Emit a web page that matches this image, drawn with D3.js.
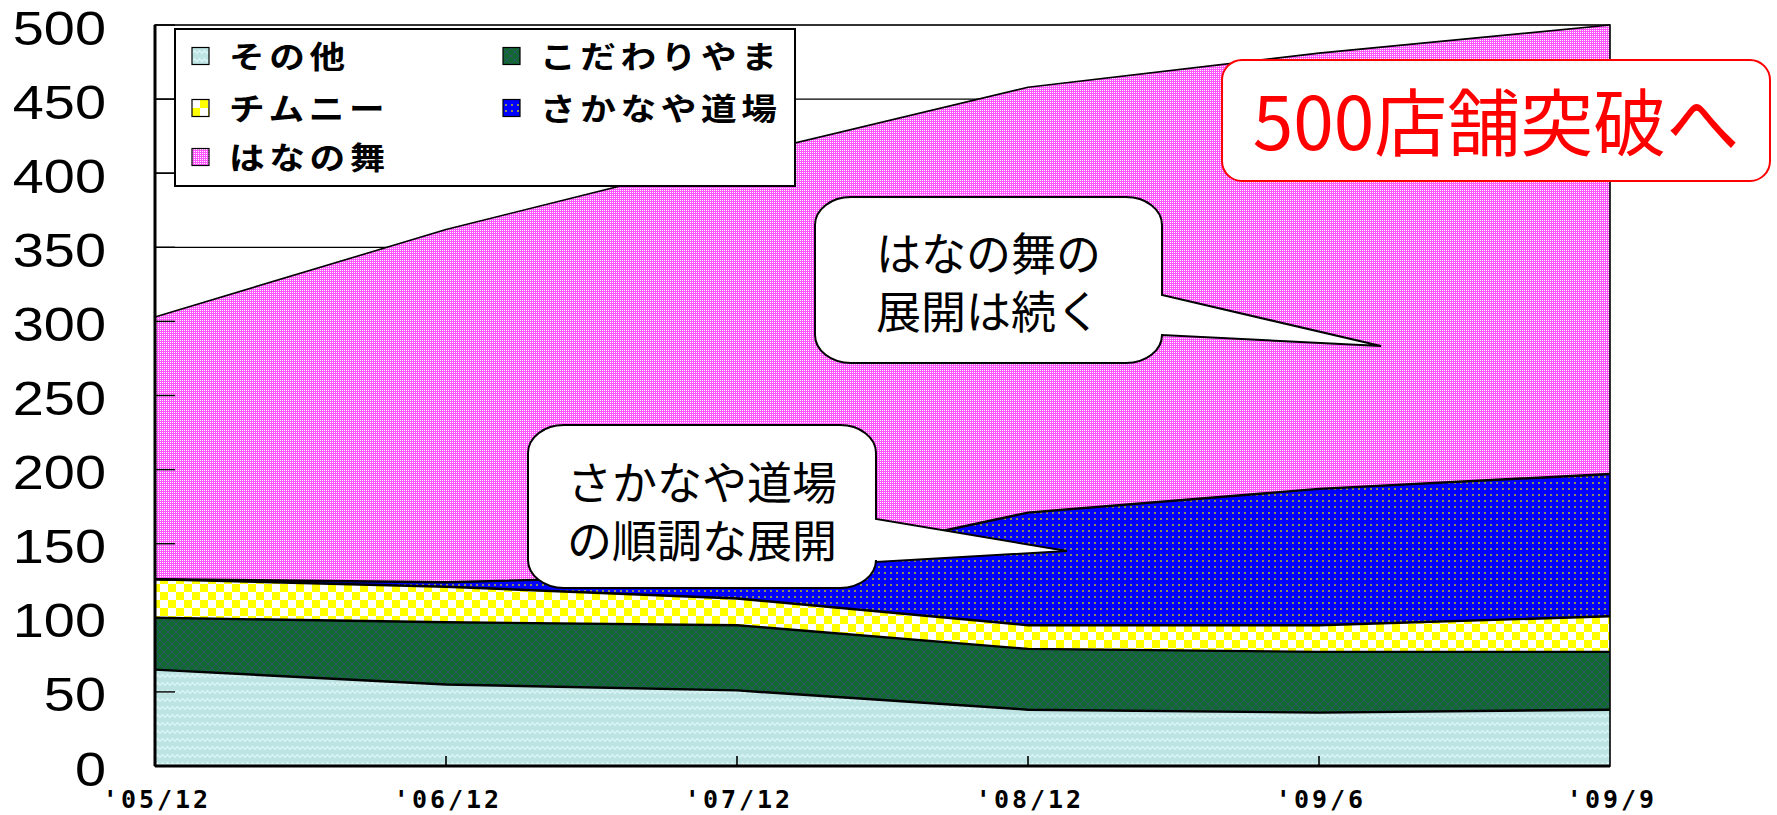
<!DOCTYPE html>
<html>
<head>
<meta charset="utf-8">
<script src="https://cdn.jsdelivr.net/npm/d3@7"></script>
<style>
  body { margin: 0; background: #fff; }
  svg { display: block; }
</style>
</head>
<body>
<div id="chart"></div>
<script>
// 店舗数の推移（積み上げ）
const categories = ["'05/12", "'06/12", "'07/12", "'08/12", "'09/6", "'09/9"];
const seriesNames = ["その他", "こだわりやま", "チムニー", "さかなや道場", "はなの舞"];
const sonota    = [65, 55, 51, 38, 36, 38];
const kodawari  = [35, 42, 44, 41, 41, 39];
const chimney   = [26, 24, 18, 16, 18, 24];
const sakanaya  = [0, 3, 16, 76, 92, 96];
const hananomai = [177, 238, 282, 287, 294, 303];
const yTicks = [0, 50, 100, 150, 200, 250, 300, 350, 400, 450, 500];

const width = 1777, height = 815;
const plot = { left: 155, right: 1610, top: 25, bottom: 766 };

const table = categories.map((c, i) => ({
    cat: c,
    "その他": sonota[i],
    "こだわりやま": kodawari[i],
    "チムニー": chimney[i],
    "さかなや道場": sakanaya[i],
    "はなの舞": hananomai[i]
}));

const stacked = d3.stack().keys(seriesNames)(table);

const x = d3.scalePoint().domain(categories).range([plot.left, plot.right]).padding(0);
const y = d3.scaleLinear().domain([0, 500]).range([plot.bottom, plot.top]);

const svg = d3.select("#chart").append("svg")
    .attr("width", width)
    .attr("height", height);

svg.append("rect").attr("width", width).attr("height", height).attr("fill", "#fff");

// パターン
const defs = svg.append("defs");

const pCyan = defs.append("pattern").attr("id", "p0")
    .attr("patternUnits", "userSpaceOnUse").attr("width", 10).attr("height", 8);
pCyan.append("rect").attr("width", 10).attr("height", 8).attr("fill", "#bde3e3");
pCyan.append("path").attr("d", "M0,5.5 L2.5,2.5 L5,5.5 L7.5,2.5 L10,5.5")
    .attr("fill", "none").attr("stroke", "#daf5f5").attr("stroke-width", 1.4);

const pGreen = defs.append("pattern").attr("id", "p1")
    .attr("patternUnits", "userSpaceOnUse").attr("width", 8).attr("height", 8);
pGreen.append("rect").attr("width", 8).attr("height", 8).attr("fill", "#12692f");
pGreen.append("path").attr("d", "M0,0 L8,8 M8,0 L0,8")
    .attr("stroke", "#2a5868").attr("stroke-width", 1);

const pYellow = defs.append("pattern").attr("id", "p2")
    .attr("patternUnits", "userSpaceOnUse").attr("width", 16).attr("height", 16);
pYellow.append("rect").attr("width", 16).attr("height", 16).attr("fill", "#fff");
pYellow.append("rect").attr("width", 8).attr("height", 8).attr("fill", "#ffff00");
pYellow.append("rect").attr("x", 8).attr("y", 8).attr("width", 8).attr("height", 8).attr("fill", "#ffff00");

const pBlue = defs.append("pattern").attr("id", "p3")
    .attr("patternUnits", "userSpaceOnUse").attr("width", 6).attr("height", 6);
pBlue.append("rect").attr("width", 6).attr("height", 6).attr("fill", "#0000ff");
pBlue.append("rect").attr("x", 2).attr("y", 2).attr("width", 2).attr("height", 2).attr("fill", "#8e8e5a");

const pPink = defs.append("pattern").attr("id", "p4")
    .attr("patternUnits", "userSpaceOnUse").attr("width", 2).attr("height", 2);
pPink.append("rect").attr("width", 2).attr("height", 2).attr("fill", "#ff55ff");
pPink.append("rect").attr("width", 1).attr("height", 1).attr("fill", "#ffffff");

// 目盛線
svg.append("g").selectAll("line")
    .data(yTicks.filter(t => t > 0 && t < 500))
    .enter().append("line")
    .attr("x1", plot.left).attr("x2", plot.right)
    .attr("y1", d => y(d)).attr("y2", d => y(d))
    .attr("stroke", "#000").attr("stroke-width", 1.2);

// 面
const area = d3.area()
    .x((d, i) => x(categories[i]))
    .y0(d => y(d[0]))
    .y1(d => y(d[1]));

svg.append("g").selectAll("path")
    .data(stacked)
    .enter().append("path")
    .attr("d", area)
    .attr("fill", (d, i) => `url(#p${i})`);

const line = d3.line()
    .x((d, i) => x(categories[i]))
    .y(d => y(d[1]));

svg.append("g").selectAll("path")
    .data(stacked)
    .enter().append("path")
    .attr("d", line)
    .attr("fill", "none")
    .attr("stroke", "#000")
    .attr("stroke-width", (d, i) => i === 4 ? 1.6 : 2.4);

// 軸と枠
svg.append("rect")
    .attr("x", plot.left).attr("y", plot.top)
    .attr("width", plot.right - plot.left).attr("height", plot.bottom - plot.top)
    .attr("fill", "none").attr("stroke", "#000").attr("stroke-width", 1.6);

svg.append("line")
    .attr("x1", plot.left).attr("x2", plot.left)
    .attr("y1", plot.top).attr("y2", plot.bottom)
    .attr("stroke", "#000").attr("stroke-width", 3);
svg.append("line")
    .attr("x1", plot.left).attr("x2", plot.right)
    .attr("y1", plot.bottom).attr("y2", plot.bottom)
    .attr("stroke", "#000").attr("stroke-width", 3);

svg.append("g").selectAll("line")
    .data(yTicks)
    .enter().append("line")
    .attr("x1", plot.left).attr("x2", plot.left + 20)
    .attr("y1", d => y(d)).attr("y2", d => y(d))
    .attr("stroke", "#000").attr("stroke-width", 1.4);

svg.append("g").selectAll("line")
    .data(categories.slice(1, -1))
    .enter().append("line")
    .attr("x1", d => x(d)).attr("x2", d => x(d))
    .attr("y1", plot.bottom).attr("y2", plot.bottom - 10)
    .attr("stroke", "#000").attr("stroke-width", 1.6);

svg.append("g").selectAll("text")
    .data(yTicks)
    .enter().append("text")
    .attr("transform", d => `translate(106,${y(d) + 19.5}) scale(1.14,1)`)
    .attr("text-anchor", "end")
    .attr("font-family", "'Liberation Sans', Arial, sans-serif")
    .attr("font-size", 49)
    .attr("fill", "#000")
    .text(d => d);

svg.append("g").selectAll("text")
    .data(categories)
    .enter().append("text")
    .attr("x", d => x(d) + 2)
    .attr("y", 808)
    .attr("text-anchor", "middle")
    .attr("font-family", "'DejaVu Sans Mono', monospace")
    .attr("font-weight", "bold")
    .attr("font-size", 25)
    .attr("letter-spacing", 3)
    .attr("fill", "#000")
    .text(d => d);

// 凡例
const legend = svg.append("g");
legend.append("rect")
    .attr("x", 175).attr("y", 29).attr("width", 620).attr("height", 157)
    .attr("fill", "#fff").attr("stroke", "#000").attr("stroke-width", 2);

const legendPos = [
    { x: 192, y: 56 }, { x: 503, y: 56 },
    { x: 192, y: 108 }, { x: 503, y: 108 },
    { x: 192, y: 157 }
];

const items = legend.selectAll("g.item")
    .data(seriesNames)
    .enter().append("g")
    .attr("transform", (d, i) => `translate(${legendPos[i].x},${legendPos[i].y})`);

items.append("rect")
    .attr("x", 0).attr("y", -8.5).attr("width", 17).attr("height", 17)
    .attr("fill", (d, i) => `url(#p${i})`)
    .attr("stroke", "#000").attr("stroke-width", 1.2);

items.append("text")
    .attr("transform", "translate(37,12) scale(1.15,1)")
    .attr("font-family", "'Noto Sans CJK JP', sans-serif")
    .attr("font-weight", "bold")
    .attr("font-size", 31)
    .attr("letter-spacing", 4)
    .attr("fill", "#000")
    .text(d => d);

// 吹き出し
function bubble(x0, y0, x1, y1, rx, ry, tailTop, tailBot, tipX, tipY) {
    return `M${x0 + rx},${y0} H${x1 - rx} A${rx},${ry} 0 0 1 ${x1},${y0 + ry} V${tailTop} ` +
        `L${tipX},${tipY} L${x1},${tailBot} V${y1 - ry} A${rx},${ry} 0 0 1 ${x1 - rx},${y1} ` +
        `H${x0 + rx} A${rx},${ry} 0 0 1 ${x0},${y1 - ry} V${y0 + ry} A${rx},${ry} 0 0 1 ${x0 + rx},${y0} Z`;
}

const callouts = [
    { box: [815, 197, 1162, 363], tail: [295, 335, 1381, 346], lines: ["はなの舞の", "展開は続く"], ty: [271, 329] },
    { box: [528, 425, 876, 588], tail: [519, 562, 1067, 551], lines: ["さかなや道場", "の順調な展開"], ty: [500, 558] }
];

callouts.forEach(c => {
    const [x0, y0, x1, y1] = c.box;
    svg.append("path")
        .attr("d", bubble(x0, y0, x1, y1, 36, 28, c.tail[0], c.tail[1], c.tail[2], c.tail[3]))
        .attr("fill", "#fff").attr("stroke", "#000").attr("stroke-width", 2);
    c.lines.forEach((t, i) => {
        svg.append("text")
            .attr("x", (x0 + x1) / 2)
            .attr("y", c.ty[i])
            .attr("text-anchor", "middle")
            .attr("font-family", "'Noto Sans CJK JP', sans-serif")
            .attr("font-size", 45)
            .attr("fill", "#000")
            .text(t);
    });
});

svg.append("rect")
    .attr("x", 1222).attr("y", 60).attr("width", 548).attr("height", 121)
    .attr("rx", 20).attr("ry", 20)
    .attr("fill", "#fff").attr("stroke", "#ff0000").attr("stroke-width", 2);
svg.append("text")
    .attr("x", 1496).attr("y", 150)
    .attr("text-anchor", "middle")
    .attr("font-family", "'Noto Sans CJK JP', sans-serif")
    .attr("font-size", 73)
    .attr("fill", "#ff0000")
    .text("500店舗突破へ");
</script>
</body>
</html>
